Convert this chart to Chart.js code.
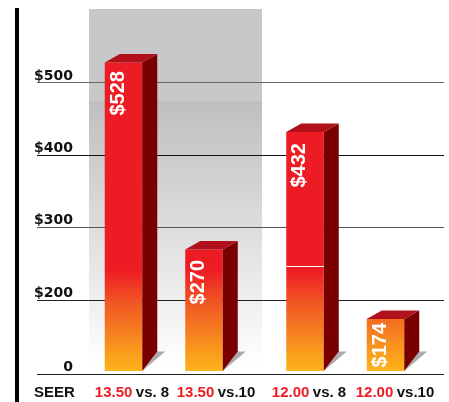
<!DOCTYPE html>
<html>
<head>
<meta charset="utf-8">
<style>html,body{margin:0;padding:0;background:#fff}canvas{display:block}</style>
<script src="https://cdn.jsdelivr.net/npm/chart.js@4/dist/chart.umd.min.js"></script>
</head>
<body>
<canvas id="c" width="449" height="402"></canvas>
<script>
const seerRatings = ['13.50', '12.00'];
const seriesNames = ['vs. 8', 'vs.10'];
const savingsVs8 = [528, 432];
const savingsVs10 = [270, 174];
const tickValues = [98, 200, 300, 400, 500];
const tickLabels = ['0', '$200', '$300', '$400', '$500'];
const tickColors = ['#222222', '#222222', '#555555', '#111111', '#666666'];
const axisTitle = 'SEER';

const RED = '#ed1c24';
const BAR_FLOOR = 102;
const labelNudge = [[8.5, 4], [12, 9.5]];
const valueDrop = [[8.5, 11], [10.5, 4]];

function frontFill(ctx) {
  const y = ctx.chart.scales.y;
  const y0 = y ? y.getPixelForValue(242) : NaN;
  const y1 = y ? y.getPixelForValue(BAR_FLOOR) : NaN;
  if (!isFinite(y0) || !isFinite(y1)) return RED;
  const g = ctx.chart.ctx.createLinearGradient(0, y0, 0, y1);
  g.addColorStop(0, RED);
  g.addColorStop(0.35, '#f15a24');
  g.addColorStop(1, '#fdb51a');
  return g;
}

const gridOpts = {
  color: c => tickColors[c.index] || '#222',
  lineWidth: 1
};

const decor = {
  id: 'decor',
  beforeDraw(chart) {
    const c = chart.ctx;
    c.save();
    c.fillStyle = '#000';
    c.fillRect(15, 8, 4, 394);
    c.fillStyle = '#c7c8ca';
    c.fillRect(89, 9, 173, 92);
    const g = c.createLinearGradient(0, 101, 0, 366);
    g.addColorStop(0, '#bfbfbf');
    g.addColorStop(0.4, '#d8d8d8');
    g.addColorStop(1, '#ffffff');
    c.fillStyle = g;
    c.fillRect(89, 101, 173, 265);
    c.restore();
  },
  afterDatasetsDraw(chart) {
    const c = chart.ctx;
    c.save();
    chart.data.datasets.forEach((ds, di) => {
      chart.getDatasetMeta(di).data.forEach((bar, i) => {
        const left = bar.x - bar.width / 2, right = bar.x + bar.width / 2;
        const top = bar.y, base = bar.base;
        const dx = 15, dyTop = 8.5, dyBase = 19.5;
        c.fillStyle = '#ababab';
        c.beginPath();
        c.moveTo(right, base);
        c.lineTo(right + dx + 8, base - dyBase);
        c.lineTo(right + dx, base - dyBase);
        c.closePath();
        c.fill();
        c.fillStyle = '#7a0000';
        c.beginPath();
        c.moveTo(right, top);
        c.lineTo(right + dx, top - dyTop);
        c.lineTo(right + dx, base - dyBase);
        c.lineTo(right, base);
        c.closePath();
        c.fill();
        c.fillStyle = '#b0111b';
        c.beginPath();
        c.moveTo(left, top);
        c.lineTo(left + dx, top - dyTop);
        c.lineTo(right + dx, top - dyTop);
        c.lineTo(right, top);
        c.closePath();
        c.fill();
        c.save();
        c.translate(left + 19, top + valueDrop[di][i]);
        c.rotate(-Math.PI / 2);
        c.fillStyle = '#fff';
        c.font = 'bold 20px "Liberation Sans"';
        c.textAlign = 'right';
        c.textBaseline = 'alphabetic';
        c.fillText('$' + ds.data[i], 0, 0);
        c.restore();
      });
    });
    const mid = chart.getDatasetMeta(0).data[1];
    c.fillStyle = '#ffffff';
    c.fillRect(mid.x - mid.width / 2, 266, mid.width, 1);

    c.font = 'bold 15px "Liberation Sans"';
    c.textBaseline = 'alphabetic';
    c.textAlign = 'left';
    c.fillStyle = '#111';
    c.fillText(axisTitle, 34, 397);
    chart.data.datasets.forEach((ds, di) => {
      chart.getDatasetMeta(di).data.forEach((bar, i) => {
        const red = seerRatings[i], rest = ds.label;
        const rw = c.measureText(red).width, bw = c.measureText(rest).width;
        const gap = 3.5, x = bar.x + labelNudge[di][i] - (rw + gap + bw) / 2;
        c.fillStyle = RED;
        c.fillText(red, x, 397);
        c.fillStyle = '#111';
        c.fillText(rest, x + rw + gap, 397);
      });
    });
    c.restore();
  }
};

function setTicks(scale) {
  scale.ticks = tickValues.map(v => ({ value: v }));
}

new Chart(document.getElementById('c'), {
  type: 'bar',
  plugins: [decor],
  data: {
    labels: seerRatings,
    datasets: [
      { label: seriesNames[0], data: savingsVs8, base: BAR_FLOOR, backgroundColor: frontFill, borderWidth: 0 },
      { label: seriesNames[1], data: savingsVs10, base: BAR_FLOOR, backgroundColor: frontFill, borderWidth: 0 }
    ]
  },
  options: {
    responsive: false,
    animation: false,
    layout: { padding: { top: 9, bottom: 28, left: 0, right: 0 } },
    categoryPercentage: 0.887,
    barPercentage: 0.466,
    plugins: { legend: { display: false }, tooltip: { enabled: false } },
    scales: {
      x: { display: false, offset: true },
      y: {
        position: 'left',
        min: 98,
        max: 602,
        afterBuildTicks: setTicks,
        afterFit(s) { s.width = 73; },
        border: { display: false },
        grid: { ...gridOpts, drawTicks: true, tickLength: 36 },
        ticks: {
          autoSkip: false,
          padding: -36,
          labelOffset: -7,
          color: '#111',
          font: { family: '"DejaVu Sans"', weight: 'bold', size: 14 },
          callback: v => tickLabels[tickValues.indexOf(v)]
        }
      },
      yEnd: {
        position: 'right',
        min: 98,
        max: 602,
        afterBuildTicks: setTicks,
        afterFit(s) { s.width = 13; },
        border: { display: false },
        grid: { ...gridOpts, drawOnChartArea: false, drawTicks: true, tickLength: 8 },
        ticks: { display: false, autoSkip: false }
      }
    }
  }
});
</script>
</body>
</html>
